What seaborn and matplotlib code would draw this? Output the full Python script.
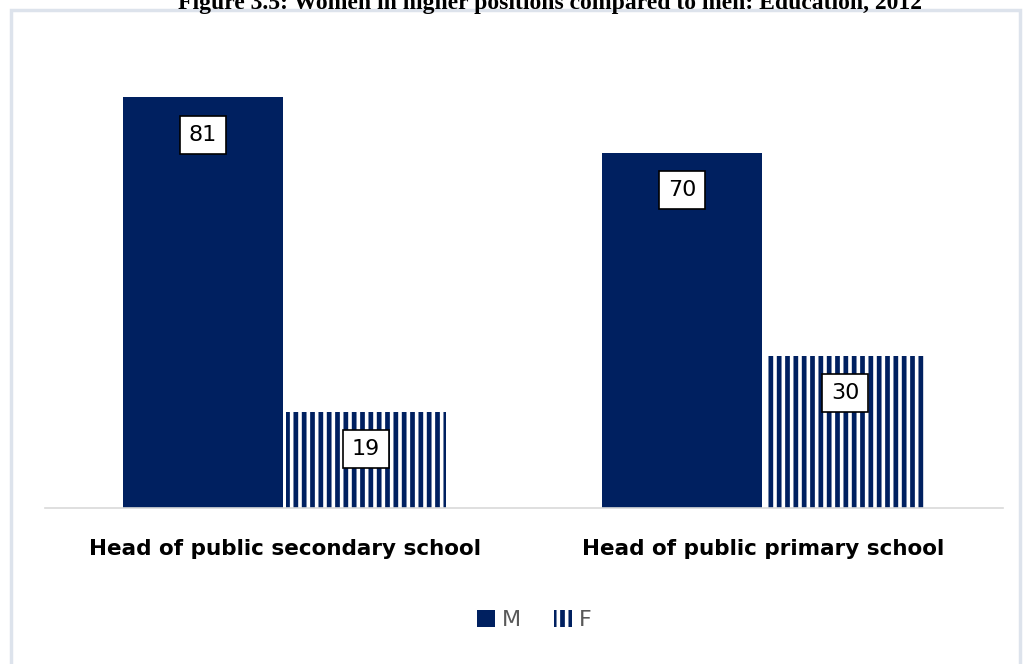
import seaborn as sns
import matplotlib.pyplot as plt
import pandas as pd
from matplotlib.patches import Rectangle, Patch

# data
positions = ["Head of public secondary school", "Head of public primary school"]
sexes = ["M", "F"]
men = [81, 70]
women = [19, 30]

navy = "#002060"

df = pd.DataFrame({
    "position": positions * 2,
    "sex": ["M"] * len(positions) + ["F"] * len(positions),
    "value": men + women,
})

sns.set_theme(style="white")
plt.rcParams["hatch.linewidth"] = 3.4

fig = plt.figure(figsize=(10.24, 6.64), dpi=100)
ax = fig.add_axes([0.044, 0.235, 0.9355, 0.687])

sns.barplot(data=df, x="position", y="value", hue="sex", hue_order=sexes,
            palette=[navy, "white"], saturation=1, width=0.68, gap=0.02, ax=ax,
            legend=False, linewidth=0)

# striped bars for F
for bar in ax.containers[1]:
    bar.set_hatch("||")
    bar.set_edgecolor(navy)
    bar.set_linewidth(0)

# value labels in boxes
for cont in ax.containers:
    ax.bar_label(cont, labels=[f"{v:.0f}" for v in cont.datavalues],
                 label_type="edge", padding=-34, fontsize=16, color="black",
                 bbox=dict(boxstyle="square,pad=0.4", fc="white", ec="black", lw=1.2))

ax.set_ylim(0, 90)
ax.set_xlim(-0.5, 1.5)
ax.set_yticks([])
ax.set_xlabel("")
ax.set_ylabel("")
for s in ["top", "right", "left"]:
    ax.spines[s].set_visible(False)
ax.spines["bottom"].set_color("#d9d9d9")
ax.spines["bottom"].set_linewidth(1.2)
ax.tick_params(axis="x", length=0, pad=22)
for lab in ax.get_xticklabels():
    lab.set_fontsize(15.5)
    lab.set_fontweight("bold")
    lab.set_color("black")

# legend
handles = [Patch(facecolor=navy, edgecolor=navy, linewidth=0),
           Patch(facecolor="white", edgecolor=navy, hatch="||", linewidth=0)]
fig.legend(handles, sexes, loc="center", bbox_to_anchor=(0.522, 0.066), ncol=2,
           frameon=False, fontsize=16, labelcolor="#595959",
           handlelength=0.8, handleheight=0.8, handletextpad=0.3, columnspacing=1.5)

# chart frame
fig.patches.append(Rectangle((0.011, -0.05), 0.985, 1.035, transform=fig.transFigure,
                             fill=False, ec="#dde3ec", lw=2.5))

# title (cut off at the top in the source)
fig.text(0.537, 0.995, "Figure 3.5: Women in higher positions compared to men: Education, 2012",
         ha="center", va="center", fontsize=17, fontweight="bold",
         family="Liberation Serif", color="black")

fig.savefig("out.png", dpi=100)
